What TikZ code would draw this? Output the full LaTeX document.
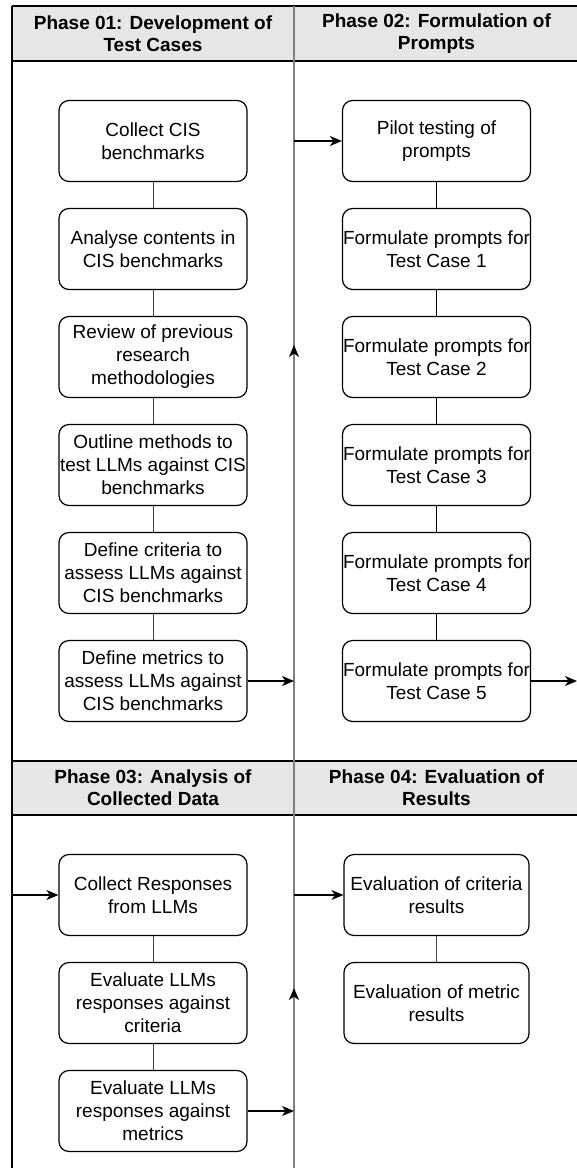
\documentclass[tikz,border=0pt]{standalone}
\usepackage{fontspec}
\setmainfont{Liberation Sans}
\usetikzlibrary{arrows.meta}

\definecolor{headfill}{HTML}{E6E6E6}
\definecolor{lanegray}{HTML}{808080}

\tikzset{
  stage/.style={draw, line width=1.2pt, rounded corners=10pt,
    minimum width=188pt, minimum height=81pt, inner sep=0pt,
    align=center, font=\fontsize{19}{23}\selectfont},
  phasehead/.style={align=center, font=\fontsize{19}{22}\selectfont\bfseries},
  link/.style={line width=0.9pt, draw=black!75},
  flow/.style={line width=1.2pt, -{Stealth[length=12pt,width=10pt,inset=3.5pt]}},
  laneflow/.style={line width=1.3pt, draw=lanegray,
    -{Stealth[length=12pt,width=10pt,inset=3.5pt,color=black]}},
  lane/.style={line width=1.3pt},
}

\begin{document}
\begin{tikzpicture}[x=1pt, y=-1pt]
  \def \lx {153}      % centre of left lane
  \def \rx {436.5}    % centre of right lane
  \def \splitx {294}  % lane divider, also carries the flow
  \def \pitch {108}   % distance between stages
  \useasboundingbox (0,0) rectangle (577,1168);

  % lanes and header bands
  \fill[headfill] (12,6) rectangle (577,61);
  \fill[headfill] (12,761) rectangle (577,815);
  \foreach \y in {6,61,761,815}
    \draw[lane] (12,\y) -- (577,\y);
  \draw[lane] (12,6) -- (12,1168);
  \draw[lane, draw=lanegray] (\splitx,6) -- (\splitx,1168);

  \node[phasehead] (ph1) at (\lx,33.5) {Phase 01: Development of\\Test Cases};
  \node[phasehead] (ph2) at (\rx,33.5) {Phase 02: Formulation of\\Prompts};
  \node[phasehead] (ph3) at (\lx,788) {Phase 03: Analysis of\\Collected Data};
  \node[phasehead] (ph4) at (\rx,788) {Phase 04: Evaluation of\\Results};

  % phase 01
  \foreach \i/\txt in {1/{Collect CIS\\benchmarks},
      2/{Analyse contents in\\CIS benchmarks},
      3/{Review of previous\\research\\methodologies},
      4/{Outline methods to\\test LLMs against CIS\\benchmarks},
      5/{Define criteria to\\assess LLMs against\\CIS benchmarks},
      6/{Define metrics to\\assess LLMs against\\CIS benchmarks}}
    \node[stage] (dev\i) at (\lx,{141+\pitch*(\i-1)}) {\txt};

  % phase 02
  \node[stage] (fp0) at (\rx,141) {Pilot testing of\\prompts};
  \foreach \i in {1,...,5}
    \node[stage] (fp\i) at (\rx,{141+\pitch*\i}) {Formulate prompts for\\Test Case \i};

  % phase 03
  \foreach \i/\txt in {1/{Collect Responses\\from LLMs},
      2/{Evaluate LLMs\\responses against\\criteria},
      3/{Evaluate LLMs\\responses against\\metrics}}
    \node[stage] (an\i) at (\lx,{895+\pitch*(\i-1)}) {\txt};

  % phase 04
  \node[stage, minimum width=185pt] (ev1) at (\rx,895) {Evaluation of criteria\\results};
  \node[stage, minimum width=185pt] (ev2) at (\rx,1003) {Evaluation of metric\\results};

  % links inside the lanes
  \foreach \i in {1,...,5}
  {
    \pgfmathtruncatemacro{\j}{\i+1}
    \draw[link] (dev\i) -- (dev\j);
  }
  \foreach \i in {0,...,4}
  {
    \pgfmathtruncatemacro{\j}{\i+1}
    \draw[link, line width=1.2pt, draw=black] (fp\i) -- (fp\j);
  }
  \draw[link] (an1) -- (an2);
  \draw[link] (an2) -- (an3);
  \draw[link] (ev1) -- (ev2);

  % flow between the phases
  \coordinate (turn1) at (\splitx,681);
  \coordinate (turn2) at (\splitx,141);
  \coordinate (exit2) at (577,681);
  \coordinate (entry3) at (12,895);
  \coordinate (turn3) at (\splitx,1111);
  \coordinate (turn4) at (\splitx,895);
  \draw[flow] (dev6) -- (turn1);
  \draw[laneflow] (\splitx,372) -- (\splitx,345); % tip on the divider
  \draw[flow] (turn2) -- (fp0);
  \draw[flow] (fp5) -- (exit2);
  \draw[flow] (entry3) -- (an1);
  \draw[flow] (an3) -- (turn3);
  \draw[laneflow] (\splitx,1015) -- (\splitx,988);
  \draw[flow] (turn4) -- (ev1);
\end{tikzpicture}
\end{document}
